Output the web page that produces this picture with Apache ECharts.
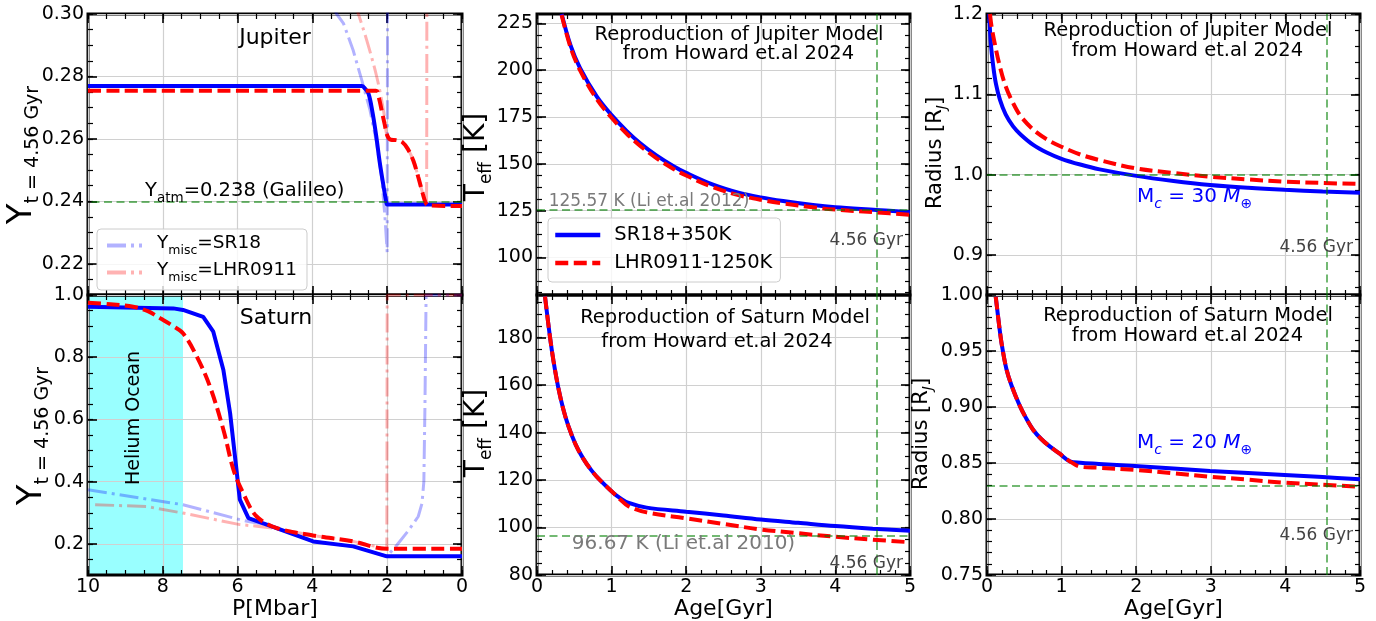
<!DOCTYPE html>
<html>
<head>
<meta charset="utf-8">
<script src="https://cdn.jsdelivr.net/npm/echarts@6/dist/echarts.min.js"></script>
<style>
  html, body { margin: 0; background: #fff; }
  #chart { width: 1376px; height: 621px; }
</style>
</head>
<body>
<div id="chart"></div>
<script>
// ---- Jupiter helium profile (top left), P in Mbar
const jupP_sr18 = [10, 2.68, 2.6, 2.5, 2.4, 2.3, 2.2, 2.1, 2.02, 2.0, 0];
const jupY_sr18 = [0.2769, 0.2769, 0.2762, 0.2745, 0.2690, 0.2615, 0.2525, 0.2450, 0.2395, 0.239, 0.239];
const jupP_lhr = [10, 2.3, 2.22, 2.15, 2.07, 2.0, 1.9, 1.75, 1.6, 1.45, 1.3, 1.17, 1.05, 0.97, 0.9, 0];
const jupY_lhr = [0.2754, 0.2754, 0.2730, 0.2692, 0.2648, 0.2612, 0.2597, 0.2596, 0.2590, 0.2568, 0.2530, 0.2478, 0.2425, 0.2395, 0.2387, 0.2385];
const jupP_sr18Misc = [3.42, 3.35, 3.17, 2.91, 2.68, 2.46, 2.28, 2.15, 2.06, 2.0, 1.99];
const jupY_sr18Misc = [0.3015, 0.300, 0.297, 0.2884, 0.2788, 0.2692, 0.2585, 0.2478, 0.235, 0.2237, 0.31];
const jupP_lhrMisc = [2.85, 2.77, 2.55, 2.28, 2.1, 2.0, 1.9, 1.75, 1.6, 1.45, 1.3, 1.17, 1.05, 0.99, 0.95, 0.94];
const jupY_lhrMisc = [0.303, 0.300, 0.2917, 0.2799, 0.2692, 0.2606, 0.2597, 0.2596, 0.2590, 0.2568, 0.2530, 0.2478, 0.2425, 0.2403, 0.239, 0.31];

// ---- Saturn helium profile (bottom left)
const satP_sr18 = [10, 7.72, 7.46, 6.92, 6.65, 6.38, 6.2, 6.07, 5.94, 5.71, 5.22, 3.98, 2.91, 2.01, 0];
const satY_sr18 = [0.962, 0.957, 0.952, 0.930, 0.882, 0.759, 0.620, 0.481, 0.342, 0.283, 0.262, 0.208, 0.192, 0.160, 0.160];
const satP_lhr = [10, 9.4, 8.79, 8.4, 8.07, 7.75, 7.46, 7.09, 6.74, 6.38, 6.11, 5.85, 5.49, 4.95, 3.98, 2.91, 2.01, 0];
const satY_lhr = [0.975, 0.970, 0.962, 0.948, 0.925, 0.902, 0.877, 0.802, 0.706, 0.567, 0.438, 0.363, 0.288, 0.251, 0.227, 0.208, 0.184, 0.184];
const satP_sr18Misc = [10, 7.46, 5.94, 5.71, 5.22, 3.98, 2.91, 2.01, 1.75, 1.45, 1.17, 1.07, 1.02, 0.99, 0.96, 0];
const satY_sr18Misc = [0.374, 0.326, 0.278, 0.272, 0.262, 0.208, 0.192, 0.160, 0.195, 0.240, 0.288, 0.330, 0.40, 0.65, 1.0, 1.0];
const satP_lhrMisc = [9.81, 8.43, 7.46, 5.94, 5.49, 4.95, 3.98, 2.91, 2.01, 2.0, 0];
const satY_lhrMisc = [0.326, 0.320, 0.299, 0.262, 0.257, 0.249, 0.227, 0.208, 0.184, 1.0, 1.0];
const heliumOceanP = [10, 7.46];
const heliumOceanTop = [1.0, 1.0];

// ---- Effective temperature vs age (middle)
const ageJupT = [0.33, 0.45, 0.576, 0.8, 1.0, 1.2, 1.38, 1.6, 1.83, 2.0, 2.36, 2.7, 3.0, 3.3, 3.7, 4.0, 4.55, 5.0];
const jupT_sr18 = [230, 213.2, 201.2, 186.0, 176, 167.6, 161.1, 154.5, 148.75, 145.2, 138.9, 134.65, 132.1, 130.15, 128.0, 126.8, 125.4, 124.2];
const jupT_lhr = [229.5, 212.2, 200.0, 184.6, 174.6, 166.2, 159.7, 153.1, 147.3, 143.8, 137.5, 133.3, 130.8, 128.9, 126.8, 125.6, 124.1, 122.8];
const ageSatT = [0.107, 0.174, 0.22, 0.286, 0.35, 0.42, 0.52, 0.62, 0.73, 0.845, 1.02, 1.12, 1.22, 1.47, 2.0, 2.5, 3.0, 3.5, 4.0, 4.5, 5.0];
const satT_sr18 = [197.4, 180.3, 170.4, 158.85, 150.2, 142.85, 134.85, 129.05, 124.1, 119.95, 114.7, 112.3, 110.5, 108.4, 106.7, 105.1, 103.4, 102, 100.6, 99.5, 98.6];
const satT_lhr = [197.4, 180.3, 170.4, 158.85, 150.2, 142.85, 134.85, 129.05, 124.1, 119.95, 114.7, 111.7, 109.1, 106.4, 103.9, 101.5, 99.2, 97.6, 96.1, 94.9, 93.8];

// ---- Radius vs age (right)
const ageJupR_sr18 = [0.03, 0.05, 0.085, 0.12, 0.174, 0.25, 0.35, 0.45, 0.62, 0.8, 0.99, 1.25, 1.51, 1.98, 2.5, 2.99, 3.5, 3.99, 4.5, 5.0];
const jupR_sr18 = [1.2, 1.165, 1.134, 1.113, 1.093, 1.075, 1.060, 1.050, 1.037, 1.0275, 1.020, 1.0125, 1.0065, 0.9987, 0.992, 0.987, 0.9835, 0.981, 0.979, 0.9775];
const ageJupR_lhr = [0.04, 0.06, 0.1, 0.174, 0.25, 0.35, 0.45, 0.62, 0.8, 0.99, 1.25, 1.51, 1.98, 2.5, 2.99, 3.5, 3.99, 4.5, 5.0];
const jupR_lhr = [1.2, 1.185, 1.165, 1.134, 1.11, 1.089, 1.073, 1.056, 1.044, 1.035, 1.025, 1.018, 1.008, 1.002, 0.9974, 0.994, 0.9912, 0.9895, 0.9883];
const ageSatR = [0.117, 0.17, 0.2, 0.26, 0.33, 0.44, 0.52, 0.62, 0.73, 0.845, 0.97, 1.11, 1.25, 1.5, 1.98, 2.5, 2.99, 3.5, 3.99, 4.5, 5.0];
const satR_sr18 = [0.9985, 0.969, 0.955, 0.934, 0.919, 0.901, 0.8905, 0.8795, 0.8712, 0.8646, 0.8585, 0.8515, 0.8502, 0.8492, 0.8473, 0.8451, 0.8429, 0.8411, 0.8393, 0.8374, 0.8356];
const satR_lhr = [0.9985, 0.969, 0.955, 0.934, 0.919, 0.901, 0.8905, 0.8795, 0.8712, 0.8646, 0.8585, 0.8515, 0.8467, 0.8458, 0.8438, 0.8408, 0.8378, 0.8351, 0.8324, 0.8306, 0.8289];

// ---- reference values
const jupYatm = 0.238;
const jupTeffObs = 125.57;
const satTeffObs = 96.67;
const jupRObs = 1.0;
const satRObs = 0.8333;
const ageNow = 4.56;

const FONT = 'DejaVu Sans';
const BLUE = '#0000ff', RED = '#ff0000';
const LBLUE = 'rgba(0,0,255,0.3)', LRED = 'rgba(255,0,0,0.3)';
const GREEN = 'rgba(0,128,0,0.55)';

const chart = echarts.init(document.getElementById('chart'));

function zip(xs, ys) {
  return xs.map((x, i) => [x, ys[i]]);
}
function multiples(min, max, step) {
  const out = [];
  for (let k = Math.ceil(min / step - 1e-6); k * step <= max + step * 1e-6; k++) {
    out.push(+(k * step).toFixed(6));
  }
  return out;
}

const panels = [
  { grid: { left: 88, top: 14, width: 374, height: 281 },
    x: { min: 0, max: 10, major: 2, minor: 0.5, inverse: true },
    y: { min: 0.21, max: 0.30, major: 0.02, minor: 0.005, dec: 2 } },
  { grid: { left: 88, top: 295, width: 374, height: 280 },
    x: { min: 0, max: 10, major: 2, minor: 0.5, inverse: true, labels: true, dec: 0, name: 'P[Mbar]' },
    y: { min: 0.1, max: 1.0, major: 0.2, minor: 0.05, dec: 1 } },
  { grid: { left: 537, top: 14, width: 373, height: 281 },
    x: { min: 0, max: 5, major: 1, minor: 0.2 },
    y: { min: 80, max: 230, major: 25, minor: 6.25, dec: 0 } },
  { grid: { left: 537, top: 295, width: 373, height: 280 },
    x: { min: 0, max: 5, major: 1, minor: 0.2, labels: true, dec: 0, name: 'Age[Gyr]' },
    y: { min: 80, max: 198, major: 20, minor: 5, dec: 0 } },
  { grid: { left: 987, top: 14, width: 373, height: 281 },
    x: { min: 0, max: 5, major: 1, minor: 0.2 },
    y: { min: 0.85, max: 1.2, major: 0.1, minor: 0.02, dec: 1 } },
  { grid: { left: 987, top: 295, width: 373, height: 280 },
    x: { min: 0, max: 5, major: 1, minor: 0.2, labels: true, dec: 0, name: 'Age[Gyr]' },
    y: { min: 0.75, max: 1.0, major: 0.05, minor: 0.01, dec: 2 } }
];

// four axes per side pair: main (labels, grid), minor, mirrored main, mirrored minor
const xAxis = [], yAxis = [];
panels.forEach((p, gi) => {
  ['x', 'y'].forEach(dim => {
    const s = p[dim];
    const list = dim === 'x' ? xAxis : yAxis;
    const sides = dim === 'x' ? ['bottom', 'top'] : ['left', 'right'];
    const majors = multiples(s.min, s.max, s.major);
    const minors = multiples(s.min, s.max, s.minor);
    sides.forEach((pos, si) => {
      [majors, minors].forEach((vals, mi) => {
        const ax = {
          type: 'value', gridIndex: gi, position: pos,
          min: s.min, max: s.max, inverse: !!s.inverse,
          axisLine: { show: false, onZero: false },
          axisTick: { show: true, inside: true, length: mi === 0 ? 9 : 5, customValues: vals,
                      lineStyle: { color: '#000', width: mi === 0 ? 1.6 : 1.2 } },
          axisLabel: { show: false },
          splitLine: { show: false },
          axisPointer: { show: false }
        };
        if (si === 0 && mi === 0) {
          ax.splitLine = { show: true, lineStyle: { color: '#d0d0d0', width: 1.2 } };
          if (dim === 'y' || s.labels) {
            ax.axisLabel = { show: true, customValues: majors, margin: dim === 'y' ? 4 : 3,
                             color: '#000', fontFamily: FONT, fontSize: 19,
                             formatter: v => v.toFixed(s.dec) };
          }
          if (s.name) {
            ax.name = s.name;
            ax.nameLocation = 'middle';
            ax.nameGap = 20;
            ax.nameTextStyle = { fontFamily: FONT, fontSize: 22, color: '#000', verticalAlign: 'top' };
          }
        }
        list.push(ax);
      });
    });
  });
});

const solidBlue = { color: BLUE, width: 4 };
const dashRed = { color: RED, width: 4, type: [13, 5.5] };
const miscBlue = { color: LBLUE, width: 3, type: [19, 5, 3, 5] };
const miscRed = { color: LRED, width: 3, type: [19, 5, 3, 5] };

function line(gi, name, xs, ys, style, extra) {
  return Object.assign({
    type: 'line', name, xAxisIndex: 4 * gi, yAxisIndex: 4 * gi,
    data: zip(xs, ys), symbol: 'none', showSymbol: false,
    lineStyle: style, itemStyle: { color: style.color },
    silent: true, z: 3
  }, extra || {});
}
function refLines(gi, marks) {
  return {
    type: 'line', xAxisIndex: 4 * gi, yAxisIndex: 4 * gi, data: [], silent: true, z: 2,
    markLine: { silent: true, symbol: ['none', 'none'], label: { show: false },
                lineStyle: { color: GREEN, width: 2, type: [8, 4.5] },
                emphasis: { disabled: true }, data: marks }
  };
}
const smooth = { smooth: 0.35 };

const series = [
  // Jupiter Y
  refLines(0, [{ yAxis: jupYatm }]),
  line(0, 'Ymisc=SR18', jupP_sr18Misc, jupY_sr18Misc, miscBlue),
  line(0, 'Ymisc=LHR0911', jupP_lhrMisc, jupY_lhrMisc, miscRed, smooth),
  line(0, 'SR18+350K', jupP_sr18, jupY_sr18, solidBlue, smooth),
  line(0, 'LHR0911-1250K', jupP_lhr, jupY_lhr, dashRed, smooth),
  // Saturn Y
  { type: 'line', xAxisIndex: 4, yAxisIndex: 4, data: zip(heliumOceanP, heliumOceanTop), symbol: 'none',
    lineStyle: { width: 0 }, areaStyle: { color: 'rgba(0,255,255,0.4)', origin: 'start', opacity: 1 },
    silent: true, z: -1 },
  line(1, 'Ymisc=SR18', satP_sr18Misc, satY_sr18Misc, miscBlue),
  line(1, 'Ymisc=LHR0911', satP_lhrMisc, satY_lhrMisc, miscRed),
  line(1, 'SR18+350K', satP_sr18, satY_sr18, solidBlue),
  line(1, 'LHR0911-1250K', satP_lhr, satY_lhr, dashRed, smooth),
  // Teff
  refLines(2, [{ yAxis: jupTeffObs }, { xAxis: ageNow }]),
  line(2, 'SR18+350K', ageJupT, jupT_sr18, solidBlue, smooth),
  line(2, 'LHR0911-1250K', ageJupT, jupT_lhr, dashRed, smooth),
  refLines(3, [{ yAxis: satTeffObs }, { xAxis: ageNow }]),
  line(3, 'SR18+350K', ageSatT, satT_sr18, solidBlue, smooth),
  line(3, 'LHR0911-1250K', ageSatT, satT_lhr, dashRed, smooth),
  // Radius
  refLines(4, [{ yAxis: jupRObs }, { xAxis: ageNow }]),
  line(4, 'SR18+350K', ageJupR_sr18, jupR_sr18, solidBlue, smooth),
  line(4, 'LHR0911-1250K', ageJupR_lhr, jupR_lhr, dashRed, smooth),
  refLines(5, [{ yAxis: satRObs }, { xAxis: ageNow }]),
  line(5, 'SR18+350K', ageSatR, satR_sr18, solidBlue, smooth),
  line(5, 'LHR0911-1250K', ageSatR, satR_lhr, dashRed, smooth)
];

function sub(big, small, drop) {
  return {
    b: { fontSize: big, fontFamily: FONT, verticalAlign: 'bottom', padding: [0, 0, drop, 0] },
    s: { fontSize: small, fontFamily: FONT, verticalAlign: 'bottom' }
  };
}
function txt(x, y, text, style, rotation) {
  return {
    type: 'text', x, y, rotation: rotation || 0, z: 100, silent: true,
    style: Object.assign({ text, fill: '#000', fontFamily: FONT, fontSize: 20,
                           align: 'center', verticalAlign: 'middle' }, style)
  };
}
const R90 = Math.PI / 2;
const titleStyle = { fontSize: 19.5 };
const grayNote = { fill: '#7a7a7a' };
const ageNote = { fill: '#444', fontSize: 17, align: 'right' };
const mcRich = {
  a: { fontSize: 20, fontFamily: FONT, color: BLUE, verticalAlign: 'bottom', padding: [0, 0, 4, 0] },
  s: { fontSize: 14, fontFamily: FONT, color: BLUE, fontStyle: 'italic', verticalAlign: 'bottom' },
  i: { fontSize: 20, fontFamily: FONT, color: BLUE, fontStyle: 'italic', verticalAlign: 'bottom', padding: [0, 0, 4, 0] },
  o: { fontSize: 14, fontFamily: FONT, color: BLUE, verticalAlign: 'bottom' }
};
const radiusRich = Object.assign(sub(21, 14, 3), {
  s: { fontSize: 14, fontFamily: FONT, fontStyle: 'italic', verticalAlign: 'bottom' }
});

const graphic = [
  txt(275, 38, 'Jupiter', { fontSize: 22 }),
  txt(276, 318, 'Saturn', { fontSize: 22 }),
  txt(145, 193, '{b|Y}{s|atm}{b|=0.238 (Galileo)}', { align: 'left', rich: sub(19.5, 13.5, 4) }),
  txt(24, 155, '{b|Y}{s|t = 4.56 Gyr}', { rich: sub(34, 19, 3) }, R90),
  txt(34, 436, '{b|Y}{s|t = 4.56 Gyr}', { rich: sub(34, 19, 3) }, R90),
  txt(134.5, 418, 'Helium Ocean', { fontSize: 19 }, R90),

  txt(739, 35, 'Reproduction of Jupiter Model', titleStyle),
  txt(738.5, 54, 'from Howard et.al 2024', titleStyle),
  txt(725, 318, 'Reproduction of Saturn Model', titleStyle),
  txt(717, 341.5, 'from Howard et.al 2024', titleStyle),
  txt(1188, 31, 'Reproduction of Jupiter Model', titleStyle),
  txt(1187.5, 51, 'from Howard et.al 2024', titleStyle),
  txt(1188, 316, 'Reproduction of Saturn Model', titleStyle),
  txt(1187.5, 336, 'from Howard et.al 2024', titleStyle),

  txt(649, 202, '125.57 K (Li et.al 2012)', Object.assign({ fontSize: 17 }, grayNote)),
  txt(683.5, 544, '96.67 K (Li et.al 2010)', Object.assign({ fontSize: 20 }, grayNote)),
  txt(903, 241, '4.56 Gyr', ageNote),
  txt(903, 564, '4.56 Gyr', ageNote),
  txt(1353, 248, '4.56 Gyr', ageNote),
  txt(1353, 536, '4.56 Gyr', ageNote),

  txt(479, 157, '{b|T}{s|eff}{b| [K]}', { rich: sub(28, 17, 4) }, R90),
  txt(479, 433, '{b|T}{s|eff}{b| [K]}', { rich: sub(28, 17, 4) }, R90),
  txt(937, 153, '{b|Radius [R}{s|J}{b|]}', { rich: radiusRich }, R90),
  txt(923, 434, '{b|Radius [R}{s|J}{b|]}', { rich: radiusRich }, R90),
  txt(1137, 199, '{a|M}{s|c}{a| = 30 }{i|M}{o|⊕}', { align: 'left', fill: BLUE, rich: mcRich }),
  txt(1137, 445, '{a|M}{s|c}{a| = 20 }{i|M}{o|⊕}', { align: 'left', fill: BLUE, rich: mcRich })
];

const legendRich = {
  y: { fontSize: 18.5, fontFamily: FONT, color: '#000', verticalAlign: 'bottom', padding: [0, 0, 4, 0] },
  s: { fontSize: 12.5, fontFamily: FONT, color: '#000', verticalAlign: 'bottom' }
};
const legendBox = { backgroundColor: 'rgba(255,255,255,0.8)', borderColor: '#cccccc', borderWidth: 1,
                    borderRadius: 4, orient: 'vertical', selectedMode: false,
                    itemStyle: { opacity: 0, borderWidth: 0 } };

const option = {
  animation: false,
  textStyle: { fontFamily: FONT },
  grid: panels.map(p => Object.assign({ show: true, borderColor: '#000', borderWidth: 3,
                                        backgroundColor: 'transparent', containLabel: false,
                                        outerBoundsMode: 'none' }, p.grid)),
  xAxis, yAxis,
  legend: [
    Object.assign({ data: ['Ymisc=SR18', 'Ymisc=LHR0911'], left: 97, top: 229,
      itemWidth: 35, itemHeight: 14, itemGap: 4, padding: [5, 10, 6, 8],
      lineStyle: { width: 4 },
      formatter: n => '{y|Y}{s|misc}{y|=' + n.slice(6) + '}',
      textStyle: { padding: [0, 0, 0, 10], rich: legendRich } }, legendBox),
    Object.assign({ data: ['SR18+350K', 'LHR0911-1250K'], left: 548, top: 218,
      itemWidth: 45, itemHeight: 14, itemGap: 6, padding: [6, 8, 8, 5],
      lineStyle: { width: 4.5 },
      textStyle: { fontSize: 19.5, color: '#000', lineHeight: 22, padding: [0, 0, 0, 9] } }, legendBox)
  ],
  graphic,
  series
};
chart.setOption(option);
</script>
</body>
</html>
